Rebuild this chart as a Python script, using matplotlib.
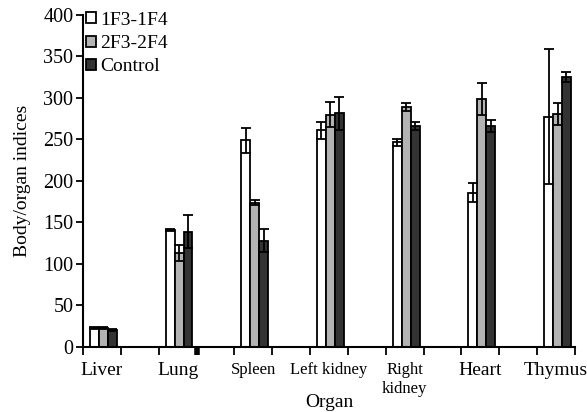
import numpy as np
import matplotlib.pyplot as plt

# data
organs = ['Liver', 'Lung', 'Spleen', 'Left kidney', 'Right\nkidney', 'Heart', 'Thymus']
label_sizes = [14, 14, 12, 12, 12, 14, 14]
groups = ['1F3-1F4', '2F3-2F4', 'Control']
colors = ['white', '#b3b3b3', '#333333']

g1_mean = [22.5, 141, 249, 261, 246.5, 186, 277.5]
g1_err = [1, 1.5, 15, 10, 4, 11, 81]
g2_mean = [22.5, 113, 174, 280, 289.5, 299, 281]
g2_err = [1, 10, 3, 15, 5, 19, 13]
ctrl_mean = [20.5, 139, 128, 281.5, 266, 266, 325.5]
ctrl_err = [1, 20, 14, 20, 5, 7, 6]

means = [g1_mean, g2_mean, ctrl_mean]
errs = [g1_err, g2_err, ctrl_err]

plt.rcParams['font.family'] = ['Liberation Serif', 'DejaVu Serif']

fig = plt.figure(figsize=(5.87, 4.12), dpi=100)
ax = fig.add_axes([0.1414, 0.1578, 0.8382, 0.8058])

base = np.arange(len(organs)) * 2
width = 0.237
offsets = [0.30, 0.537, 0.774]
for k in range(3):
    ax.bar(base + offsets[k], means[k], width=width, color=colors[k],
           edgecolor='black', linewidth=1.3, label=groups[k], zorder=2)
    ax.errorbar(base + offsets[k], means[k], yerr=errs[k], fmt='none',
                ecolor='black', elinewidth=1.3, capsize=3.5, capthick=1.3, zorder=3)

ax.set_xlim(0, 13)
ax.set_ylim(0, 400)
ax.set_yticks(np.arange(0, 401, 50))
ax.set_xticks(np.arange(0, 14))
ax.set_xticklabels([])
ax.set_xticks(base + 0.5, minor=True)
ax.set_xticklabels(organs, minor=True)
for lab, sz in zip(ax.get_xticklabels(minor=True), label_sizes):
    lab.set_fontsize(sz)
ax.tick_params(axis='x', which='minor', length=0, pad=11)
ax.tick_params(axis='x', which='major', length=6, width=1.3, direction='out')
ax.tick_params(axis='y', length=5, width=1.3, labelsize=14.5, pad=2)
ax.xaxis.get_major_ticks()[3].tick1line.set_markeredgewidth(4)

for s in ['top', 'right']:
    ax.spines[s].set_visible(False)
for s in ['left', 'bottom']:
    ax.spines[s].set_linewidth(1.5)

ax.set_ylabel('Body/organ indices', fontsize=14, labelpad=9)
ax.set_xlabel('Organ', fontsize=14)
ax.xaxis.set_label_coords(0.5, -0.143)

ax.legend(loc='upper left', bbox_to_anchor=(-0.018, 1.045), frameon=False, fontsize=14,
          handlelength=0.5, handleheight=0.5, handletextpad=0.25, labelspacing=0.32,
          borderaxespad=0.2)

fig.savefig('out.png', dpi=100)
